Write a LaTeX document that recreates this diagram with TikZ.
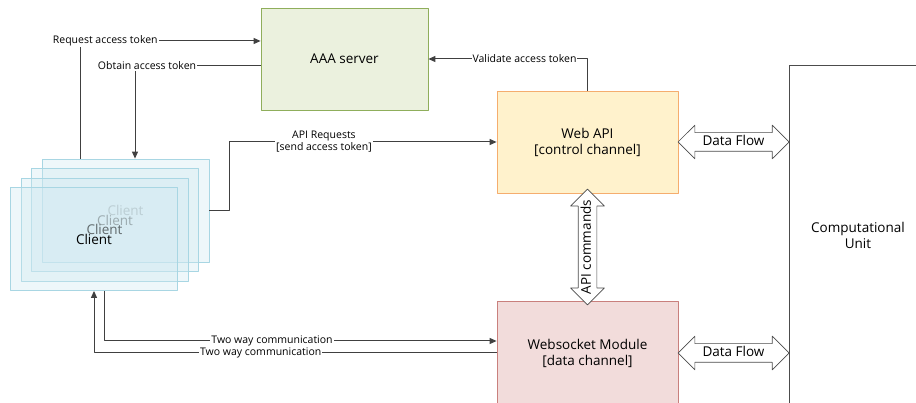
\documentclass[tikz,border=0pt]{standalone}
\usepackage{fontspec}
\setmainfont{Open Sans}
\usetikzlibrary{arrows.meta,shapes.arrows,calc}
\definecolor{aaafill}{HTML}{EBF1DE}
\definecolor{aaadraw}{HTML}{8FAE5B}
\definecolor{apifill}{HTML}{FFF2CC}
\definecolor{apidraw}{HTML}{F5AD6E}
\definecolor{wsfill}{HTML}{F2DCDB}
\definecolor{wsdraw}{HTML}{C9807D}
\definecolor{clfill}{HTML}{CFE8F0}
\definecolor{cldraw}{HTML}{A8D6E3}
\tikzset{
  box/.style={draw, line width=0.8pt, align=center, minimum width=181pt, minimum height=102pt},
  client/.style={draw=cldraw, line width=0.8pt, fill=clfill, fill opacity=0.35, text opacity=1, minimum width=167pt, minimum height=103pt},
  lbl/.style={font=\fontsize{10.5}{12}\selectfont, fill=white, inner sep=1pt},
  flow/.style={double arrow, draw=black!70, line width=0.7pt, fill=white, double arrow head extend=7.5pt, double arrow head indent=0pt, text height=9.5pt, text depth=3pt, inner xsep=1pt, inner ysep=2.75pt}
}
\begin{document}
\begin{tikzpicture}[x=1pt, y=-1pt, font=\fontsize{13.5}{16}\selectfont, line join=round, >={Triangle[length=7pt,width=6pt]}]
\useasboundingbox (0,0) rectangle (916,403);
\node[box, draw=aaadraw, fill=aaafill, minimum width=167pt] (aaa) at (344.5,59) {AAA server};
\node[box, draw=apidraw, fill=apifill] (webapi) at (587.5,142) {Web API\\{}[control channel]};
\node[box, draw=wsdraw, fill=wsfill, minimum height=104pt] (ws) at (587.5,353) {Websocket Module\\{}[data channel]};
\node[draw=black!70, line width=0.8pt, align=center, minimum width=138pt, minimum height=340pt] (cu) at (858,235) {Computational\\Unit};
\node[client, text=black!45] (cl1) at (125.5,210.5) {Client};
\node[client, text=black!65] (cl2) at (115,220) {Client};
\node[client, text=black!85] (cl3) at (104.5,229.5) {Client};
\node[client, text=black] (cl4) at (94,239) {Client};
\begin{scope}[draw=black!75, line width=1pt]
\draw[->] ([xshift=-45.5pt]cl1.north) |- ([yshift=18pt]aaa.west) node[lbl, pos=0.57]{Request access token};
\draw[->] ([yshift=-7pt]aaa.west) -| ([xshift=9.5pt]cl1.north) node[lbl, pos=0.452]{Obtain access token};
\draw[->] (webapi.north) |- (aaa.east) node[lbl, pos=0.698]{Validate access token};
\draw[->] (cl1.east) -- ++(20,0) |- (webapi.west) node[lbl, align=center, pos=0.677]{API Requests\\{}[send access token]};
\draw[->] ([xshift=10pt]cl4.south) |- ([yshift=12pt]ws.west) node[lbl, pos=0.714]{Two way communication};
\draw[->] (ws.west) -| (cl4.south) node[lbl, pos=0.293]{Two way communication};
\end{scope}
\node[flow, minimum height=111pt] (flow1) at ($(webapi.east)!0.5!(cu.west |- webapi.east)$) {Data Flow};
\node[flow, minimum height=111pt] (flow2) at ($(ws.east)!0.5!(cu.west |- ws.east)$) {Data Flow};
\node[flow, rotate=90, minimum height=109pt] (cmd) at ($(webapi.south)!0.5!(ws.north)$) {API commands};
\end{tikzpicture}
\end{document}
